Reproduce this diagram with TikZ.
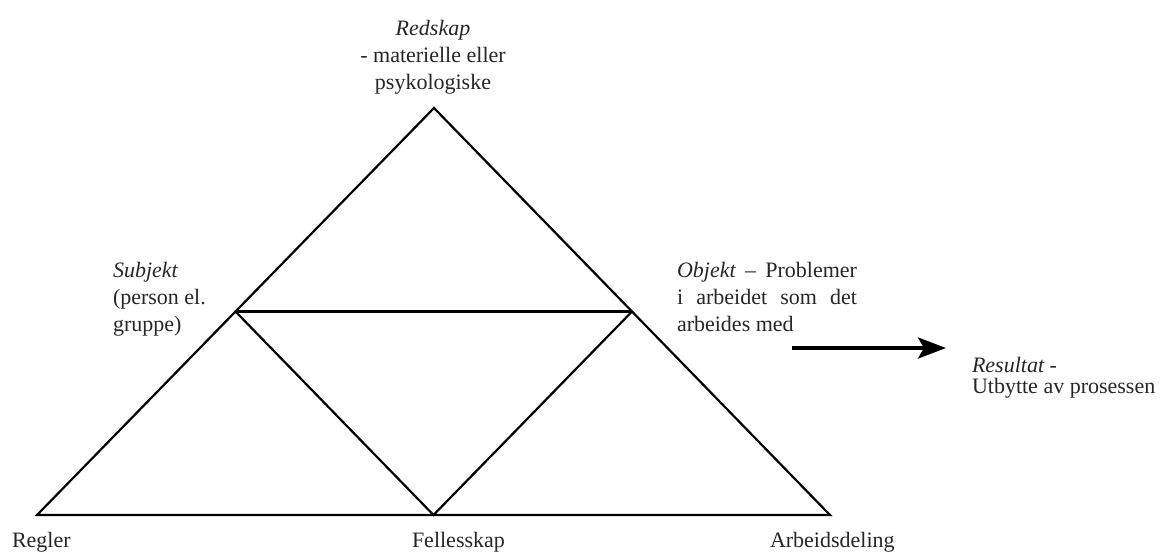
\documentclass[tikz,border=0pt]{standalone}
\usepackage{fontspec}
\setmainfont{Liberation Serif}
\usetikzlibrary{arrows.meta}

\tikzset{
  edge/.style={line width=1.1pt, line join=miter},
  label/.style={inner sep=0pt, outer sep=0pt, text=black!85,
    font=\fontsize{11}{13.5}\selectfont},
  flow/.style={line width=2pt, -{Stealth[length=14pt, width=10.5pt, inset=3pt]}}
}

\begin{document}
\begin{tikzpicture}[x=0.5pt, y=-0.5pt]
  \useasboundingbox (0,0) rectangle (1163,554);

  % corners of the activity triangle and the midpoints of its sides
  \coordinate (apex)  at (434,108);
  \coordinate (left)  at (37,515);
  \coordinate (right) at (830,515);
  \coordinate (subj)  at (235.5,311.5);
  \coordinate (obj)   at (632,311.5);
  \coordinate (comm)  at (433.5,515);

  \draw[edge] (left) -- (apex) -- (right) -- cycle;
  \draw[edge] (subj) -- (obj);
  \draw[edge] (subj) -- (comm) -- (obj);

  % outcome arrow
  \coordinate (arrowstart) at (792,348);
  \coordinate (arrowend)   at (946,348);
  \draw[flow] (arrowstart) -- (arrowend);

  % labels
  \node[label, anchor=base] (tools) at (433,35)
    {\parbox[t]{80pt}{\centering\textit{Redskap}\\- materielle eller\\psykologiske}};
  \node[label, anchor=base west] (subject) at (113,277)
    {\parbox[t]{60pt}{\raggedright\textit{Subjekt}\\(person el.\\gruppe)}};
  \node[label, anchor=base west] (object) at (677,277)
    {\parbox[t]{90pt}{\textit{Objekt}\hfill--\hfill Problemer\\
      i\hfill arbeidet\hfill som\hfill det\\arbeides med}};
  \node[label, anchor=base west, font=\fontsize{11}{10.5}\selectfont] (outcome) at (972,372)
    {\parbox[t]{100pt}{\raggedright\textit{Resultat -}\\Utbytte av prosessen}};

  \node[label, anchor=base west] (rules) at (12,547) {Regler};
  \node[label, anchor=base west] (community) at (412,547) {Fellesskap};
  \node[label, anchor=base west] (division) at (770,547) {Arbeidsdeling};
\end{tikzpicture}
\end{document}
